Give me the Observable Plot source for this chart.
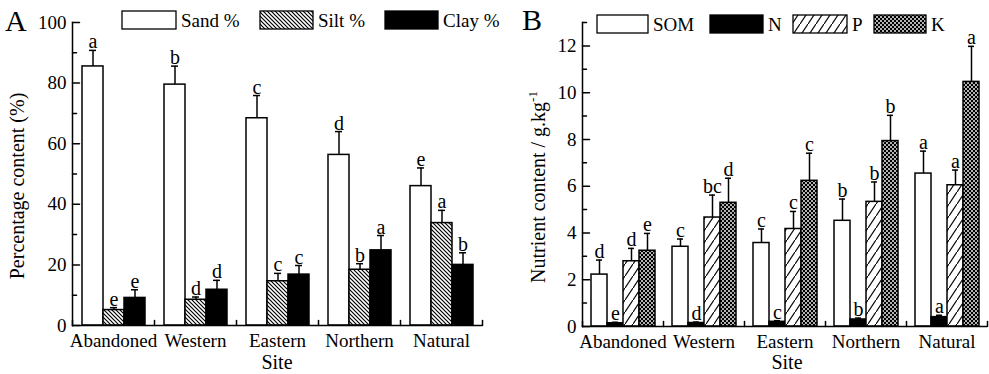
<!DOCTYPE html>
<html><head><meta charset="utf-8">
<script src="https://cdn.jsdelivr.net/npm/d3@7"></script>
<script src="https://cdn.jsdelivr.net/npm/@observablehq/plot@0.6"></script>
<style>
html,body{margin:0;padding:0;background:#fff;}
#root{position:relative;width:989px;height:374px;overflow:hidden;font-family:"Liberation Serif",serif;background:#fff;}
.panel{position:absolute;top:0;}
#overlay{position:absolute;left:0;top:0;pointer-events:none;}
</style></head><body>
<div id="root">
<svg id="defs" width="0" height="0" style="position:absolute;left:0;top:0">
 <defs>
  <pattern id="siltHatch" patternUnits="userSpaceOnUse" width="4" height="4">
   <rect width="4" height="4" fill="white"/>
   <path d="M-1,-1 L5,5 M-1,3 L1,5 M3,-1 L5,1" stroke="black" stroke-width="1.2"/>
  </pattern>
  <pattern id="pHatch" patternUnits="userSpaceOnUse" width="8" height="12">
   <rect width="8" height="12" fill="white"/>
   <path d="M-2,15 L10,-3" stroke="black" stroke-width="1.2"/>
  </pattern>
  <pattern id="kDots" patternUnits="userSpaceOnUse" width="4" height="4">
   <rect width="4" height="4" fill="black"/>
   <circle cx="1" cy="1" r="0.95" fill="white"/>
   <circle cx="3" cy="3" r="0.95" fill="white"/>
  </pattern>
 </defs>
</svg>
<div id="pa" class="panel" style="left:0"></div>
<div id="pb" class="panel" style="left:495px"></div>
<svg id="overlay" width="989" height="374"></svg>
</div>
<script>
// ---------- data ----------
const sites = ["Abandoned", "Western", "Eastern", "Northern", "Natural"];

// Panel A: soil texture
const textureNames = ["Sand", "Silt", "Clay"];
const textureLabels = ["Sand %", "Silt %", "Clay %"];
const sand = [85.5, 79.5, 68.4, 56.3, 46.0];
const sandErr = [5.3, 6.1, 7.5, 7.7, 6.0];
const sandSig = ["a", "b", "c", "d", "e"];
const silt = [5.1, 8.5, 14.6, 18.4, 33.8];
const siltErr = [0.8, 0.9, 2.6, 2.0, 4.2];
const siltSig = ["e", "d", "c", "b", "a"];
const clay = [9.1, 11.8, 16.8, 24.8, 20.0];
const clayErr = [2.7, 3.1, 3.0, 4.9, 4.0];
const claySig = ["e", "d", "c", "a", "b"];
const yTicksA = [0, 20, 40, 60, 80, 100];
const yMinorA = [10, 30, 50, 70, 90];

// Panel B: nutrients
const nutrientNames = ["SOM", "N", "P", "K"];
const nutrientLabels = ["SOM", "N", "P", "K"];
const som = [2.22, 3.41, 3.57, 4.52, 6.54];
const somErr = [0.62, 0.33, 0.60, 0.93, 0.96];
const somSig = ["d", "c", "c", "b", "a"];
const nit = [0.14, 0.15, 0.20, 0.30, 0.40];
const nitErr = [0.04, 0.04, 0.05, 0.06, 0.08];
const nitSig = ["e", "d", "c", "b", "a"];
const pho = [2.79, 4.66, 4.17, 5.33, 6.04];
const phoErr = [0.55, 0.96, 0.75, 0.85, 0.65];
const phoSig = ["d", "bc", "c", "b", "a"];
const pot = [3.24, 5.29, 6.23, 7.93, 10.46];
const potErr = [0.74, 1.05, 1.18, 1.10, 1.52];
const potSig = ["e", "d", "c", "b", "a"];
const yTicksB = [0, 2, 4, 6, 8, 10, 12];
const yMinorB = [1, 3, 5, 7, 9, 11, 13];

// ---------- build ----------
function rowsFrom(names, values, errs, sigs) {
  const rows = [];
  names.forEach((c, j) => sites.forEach((s, i) =>
    rows.push({site: s, comp: c, value: values[j][i], err: errs[j][i], sig: sigs[j][i]})));
  return rows;
}
const rowsA = rowsFrom(textureNames, [sand, silt, clay], [sandErr, siltErr, clayErr], [sandSig, siltSig, claySig]);
const rowsB = rowsFrom(nutrientNames, [som, nit, pho, pot], [somErr, nitErr, phoErr, potErr], [somSig, nitSig, phoSig, potSig]);

const lineShape = {draw(ctx, l) { ctx.moveTo(0, 0); ctx.lineTo(0, -l); }};

function panel(cfg) {
  const {rows, comps, fills, yMax, majors, minors, width, marginLeft, marginRight, marginBottom, paddingOuter, capInset} = cfg;
  const top = d => d.value + d.err;
  return Plot.plot({
    width, height: 374, marginLeft, marginRight, marginTop: 22, marginBottom,
    style: {fontFamily: "Liberation Serif", fontSize: "19px", color: "black", background: "transparent", overflow: "visible"},
    fx: {domain: sites, padding: 0},
    x: {domain: comps, paddingInner: 0, paddingOuter, axis: null},
    y: {domain: [0, yMax]},
    marks: [
      ...comps.map((c, j) => Plot.barY(rows, {filter: d => d.comp === c, fx: "site", x: "comp", y: "value",
        fill: fills[j], stroke: "black", strokeWidth: 1.5})),
      Plot.ruleX(rows, {fx: "site", x: "comp", y1: "value", y2: top, stroke: "black", strokeWidth: 1.5}),
      Plot.tickY(rows, {fx: "site", x: "comp", y: top, insetLeft: capInset, insetRight: capInset, stroke: "black", strokeWidth: 1.5}),
      Plot.text(rows, {fx: "site", x: "comp", y: top, text: "sig", lineAnchor: "bottom", dy: -2, fontSize: 20, fill: "black"}),
      Plot.ruleY([0], {stroke: "black", strokeWidth: 1.5}),
      Plot.frame({anchor: "left", facetAnchor: "left", stroke: "black", strokeWidth: 1.5}),
      Plot.vector(majors, {y: d => d, frameAnchor: "left", rotate: 90, length: 7, anchor: "start", shape: lineShape, facetAnchor: "left", stroke: "black", strokeWidth: 1.5}),
      Plot.vector(minors, {y: d => d, frameAnchor: "left", rotate: 90, length: 4, anchor: "start", shape: lineShape, facetAnchor: "left", stroke: "black", strokeWidth: 1.5}),
      Plot.vector([0], {frameAnchor: "bottom-left", rotate: 0, length: 5, anchor: "start", shape: lineShape, stroke: "black", strokeWidth: 1.5}),
      Plot.vector([0], {frameAnchor: "bottom-right", facetAnchor: "right", rotate: 0, length: 5, anchor: "start", shape: lineShape, stroke: "black", strokeWidth: 1.5}),
      Plot.axisY({ticks: majors, tickSize: 0, tickPadding: 6, fontSize: 19, label: null}),
      Plot.axisFx({anchor: "bottom", tickSize: 0, tickPadding: 8, fontSize: 19, label: null})
    ]
  });
}

document.getElementById("pa").appendChild(panel({
  rows: rowsA, comps: textureNames, fills: ["white", "url(#siltHatch)", "black"],
  yMax: 100, majors: yTicksA, minors: yMinorA, width: 495,
  marginLeft: 70, marginRight: 12, marginBottom: 49, paddingOuter: 0.39, capInset: 7
}));
document.getElementById("pb").appendChild(panel({
  rows: rowsB, comps: nutrientNames, fills: ["white", "black", "url(#pHatch)", "url(#kDots)"],
  yMax: 13, majors: yTicksB, minors: yMinorB, width: 494,
  marginLeft: 85, marginRight: 1, marginBottom: 48, paddingOuter: 0.435, capInset: 5
}));

// ---------- overlay text & legends ----------
const ov = d3.select("#overlay").style("font-family", "'Liberation Serif', serif");
ov.append("text").attr("x", 5).attr("y", 31).attr("font-size", 30).text("A");
ov.append("text").attr("x", 522).attr("y", 30).attr("font-size", 30).text("B");
ov.append("text").attr("transform", "translate(23.5,186) rotate(-90)").attr("text-anchor", "middle")
  .attr("font-size", 20).text("Percentage content (%)");
const tb = ov.append("text").attr("transform", "translate(545,187) rotate(-90)").attr("text-anchor", "middle").attr("font-size", 20);
tb.append("tspan").text("Nutrient content / g.kg");
tb.append("tspan").attr("dy", -8).attr("font-size", 13).text("-1");
ov.append("text").attr("x", 277).attr("y", 369).attr("text-anchor", "middle").attr("font-size", 20).text("Site");
ov.append("text").attr("x", 787).attr("y", 369).attr("text-anchor", "middle").attr("font-size", 20).text("Site");

const legA = [{x: 122, w: 54}, {x: 260, w: 53}, {x: 385, w: 53}];
const fillA = ["white", "url(#siltHatch)", "black"];
textureLabels.forEach((lab, i) => {
  ov.append("rect").attr("x", legA[i].x).attr("y", 11).attr("width", legA[i].w).attr("height", 18)
    .attr("fill", fillA[i]).attr("stroke", "black").attr("stroke-width", 1.3);
  ov.append("text").attr("x", legA[i].x + legA[i].w + 5).attr("y", 27).attr("font-size", 19).text(lab);
});
const legB = [{x: 597, w: 51}, {x: 710, w: 53}, {x: 793, w: 54}, {x: 874, w: 52}];
const fillB = ["white", "black", "url(#pHatch)", "url(#kDots)"];
nutrientLabels.forEach((lab, i) => {
  ov.append("rect").attr("x", legB[i].x).attr("y", 15).attr("width", legB[i].w).attr("height", 18)
    .attr("fill", fillB[i]).attr("stroke", "black").attr("stroke-width", 1.3);
  ov.append("text").attr("x", legB[i].x + legB[i].w + 5).attr("y", 31).attr("font-size", 19).text(lab);
});
</script>
</body></html>
